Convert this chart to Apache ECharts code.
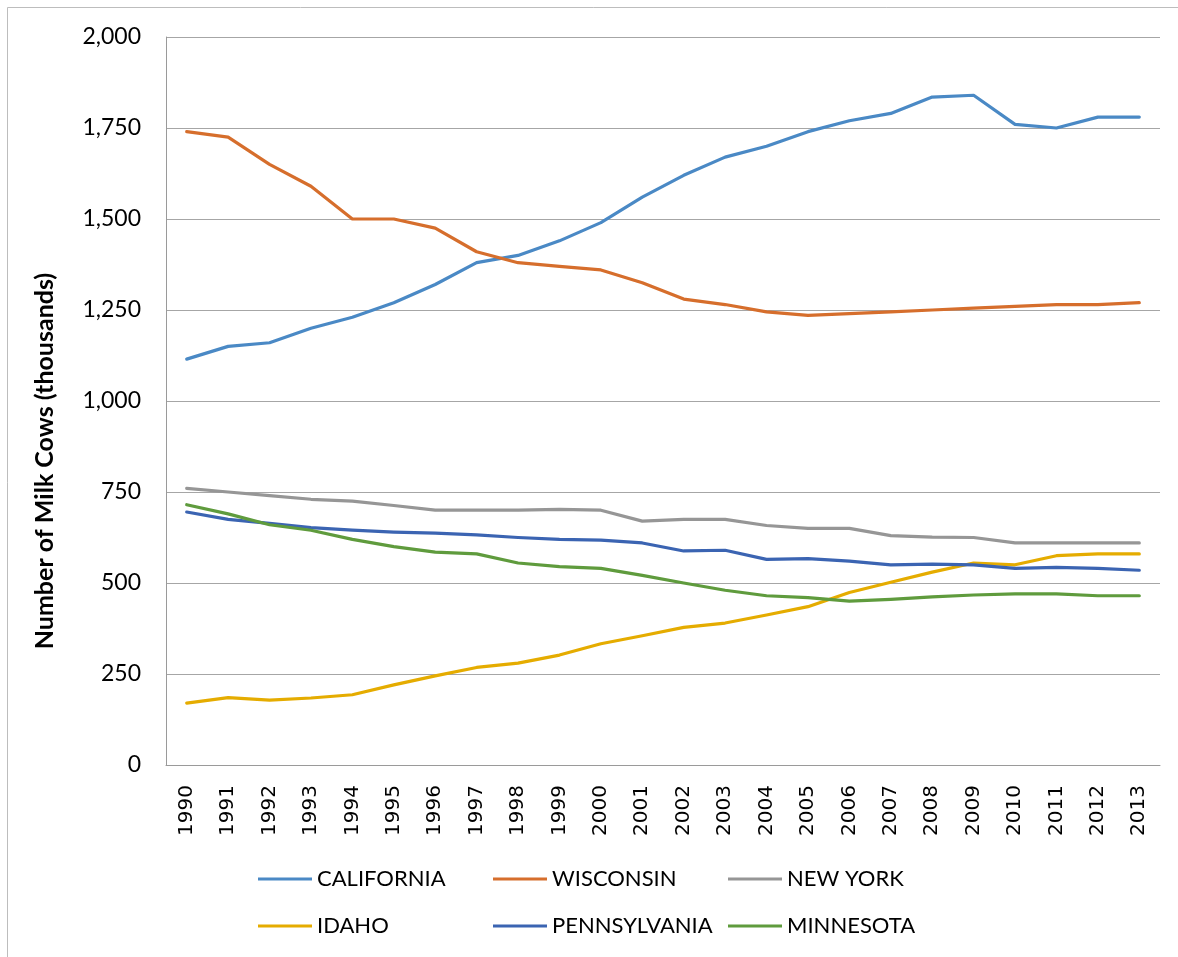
<!DOCTYPE html>
<html>
<head>
<meta charset="utf-8">
<script src="https://cdn.jsdelivr.net/npm/echarts@6/dist/echarts.min.js"></script>
<style>
html,body{margin:0;padding:0;background:#fff;}
#chart{width:1178px;height:957px;}
</style>
</head>
<body>
<div id="chart"></div>
<script>
const years = ['1990','1991','1992','1993','1994','1995','1996','1997','1998','1999','2000','2001','2002','2003','2004','2005','2006','2007','2008','2009','2010','2011','2012','2013'];
const california   = [1115,1150,1160,1200,1230,1270,1320,1380,1400,1440,1490,1560,1620,1670,1700,1740,1770,1790,1835,1840,1760,1750,1780,1780];
const wisconsin    = [1740,1725,1650,1590,1500,1500,1475,1410,1380,1370,1360,1325,1280,1265,1245,1235,1240,1245,1250,1255,1260,1265,1265,1270];
const newYork      = [760,750,740,730,725,713,700,700,700,702,700,670,675,675,658,650,650,630,626,625,610,610,610,610];
const idaho        = [170,185,178,184,193,220,245,268,280,302,333,355,378,390,412,435,474,502,530,555,550,575,580,580];
const pennsylvania = [695,675,664,652,645,640,637,632,625,620,618,610,588,590,565,567,560,550,552,550,540,543,540,535];
const minnesota    = [715,690,660,645,620,600,585,580,555,545,540,521,500,480,465,460,450,455,462,467,470,470,465,465];
const seriesNames  = ['CALIFORNIA','WISCONSIN','NEW YORK','IDAHO','PENNSYLVANIA','MINNESOTA'];
const seriesColors = ['#4A89C5','#D66E2C','#969696','#E5AC00','#3B64B2','#5F9B3D'];
const yTicks = [0,250,500,750,1000,1250,1500,1750,2000];
const yTitle = 'Number of Milk Cows (thousands)';

const allData = [california, wisconsin, newYork, idaho, pennsylvania, minnesota];
const FONT = 'Lato';

const chart = echarts.init(document.getElementById('chart'), null, {renderer:'canvas'});

const legendPos = [
  {left:253, top:863},{left:488, top:863},{left:723, top:863},
  {left:253, top:910},{left:488, top:910},{left:723, top:910}
];

const option = {
  backgroundColor:'#ffffff',
  animation:false,
  grid:{left:166, right:18, top:37, bottom:192, containLabel:false},
  xAxis:{
    type:'category',
    data:years,
    boundaryGap:true,
    axisLine:{show:true, lineStyle:{color:'#9a9a9a', width:1}},
    axisTick:{show:false},
    axisLabel:{rotate:90, margin:20, color:'#000', fontFamily:'DejaVu Sans', fontSize:20, interval:0}
  },
  yAxis:{
    type:'value',
    min:yTicks[0], max:yTicks[yTicks.length-1], interval:250,
    axisLine:{show:true, lineStyle:{color:'#9a9a9a', width:1}},
    axisTick:{show:false},
    splitLine:{show:true, lineStyle:{color:'#a6a6a6', width:1}},
    axisLabel:{margin:25, color:'#000', fontFamily:FONT, fontSize:23,
      formatter:function(v){return v.toLocaleString('en-US');}}
  },
  legend: seriesNames.map(function(n,i){
    return {
      data:[n], left:legendPos[i].left, top:legendPos[i].top,
      icon:'rect', itemWidth:54, itemHeight:3, itemGap:0,
      textStyle:{fontFamily:FONT, fontSize:22, color:'#000', padding:[0,0,0,0]}
    };
  }),
  graphic:[
    {type:'rect', shape:{x:7.5, y:7.5, width:1300, height:1300}, style:{fill:'none', stroke:'#bdbdbd', lineWidth:1}, silent:true, z:-1},
    {type:'text', x:45, y:461, rotation:Math.PI/2,
     style:{text:yTitle, fontFamily:FONT, fontWeight:'bold', fontSize:25, fill:'#000', textAlign:'center', textVerticalAlign:'middle'}}
  ],
  series: seriesNames.map(function(n,i){
    return {
      name:n, type:'line', data:allData[i], symbol:'none', smooth:false,
      lineStyle:{color:seriesColors[i], width:3.2, cap:'round', join:'round'},
      itemStyle:{color:seriesColors[i]}
    };
  })
};
chart.setOption(option);
</script>
</body>
</html>
